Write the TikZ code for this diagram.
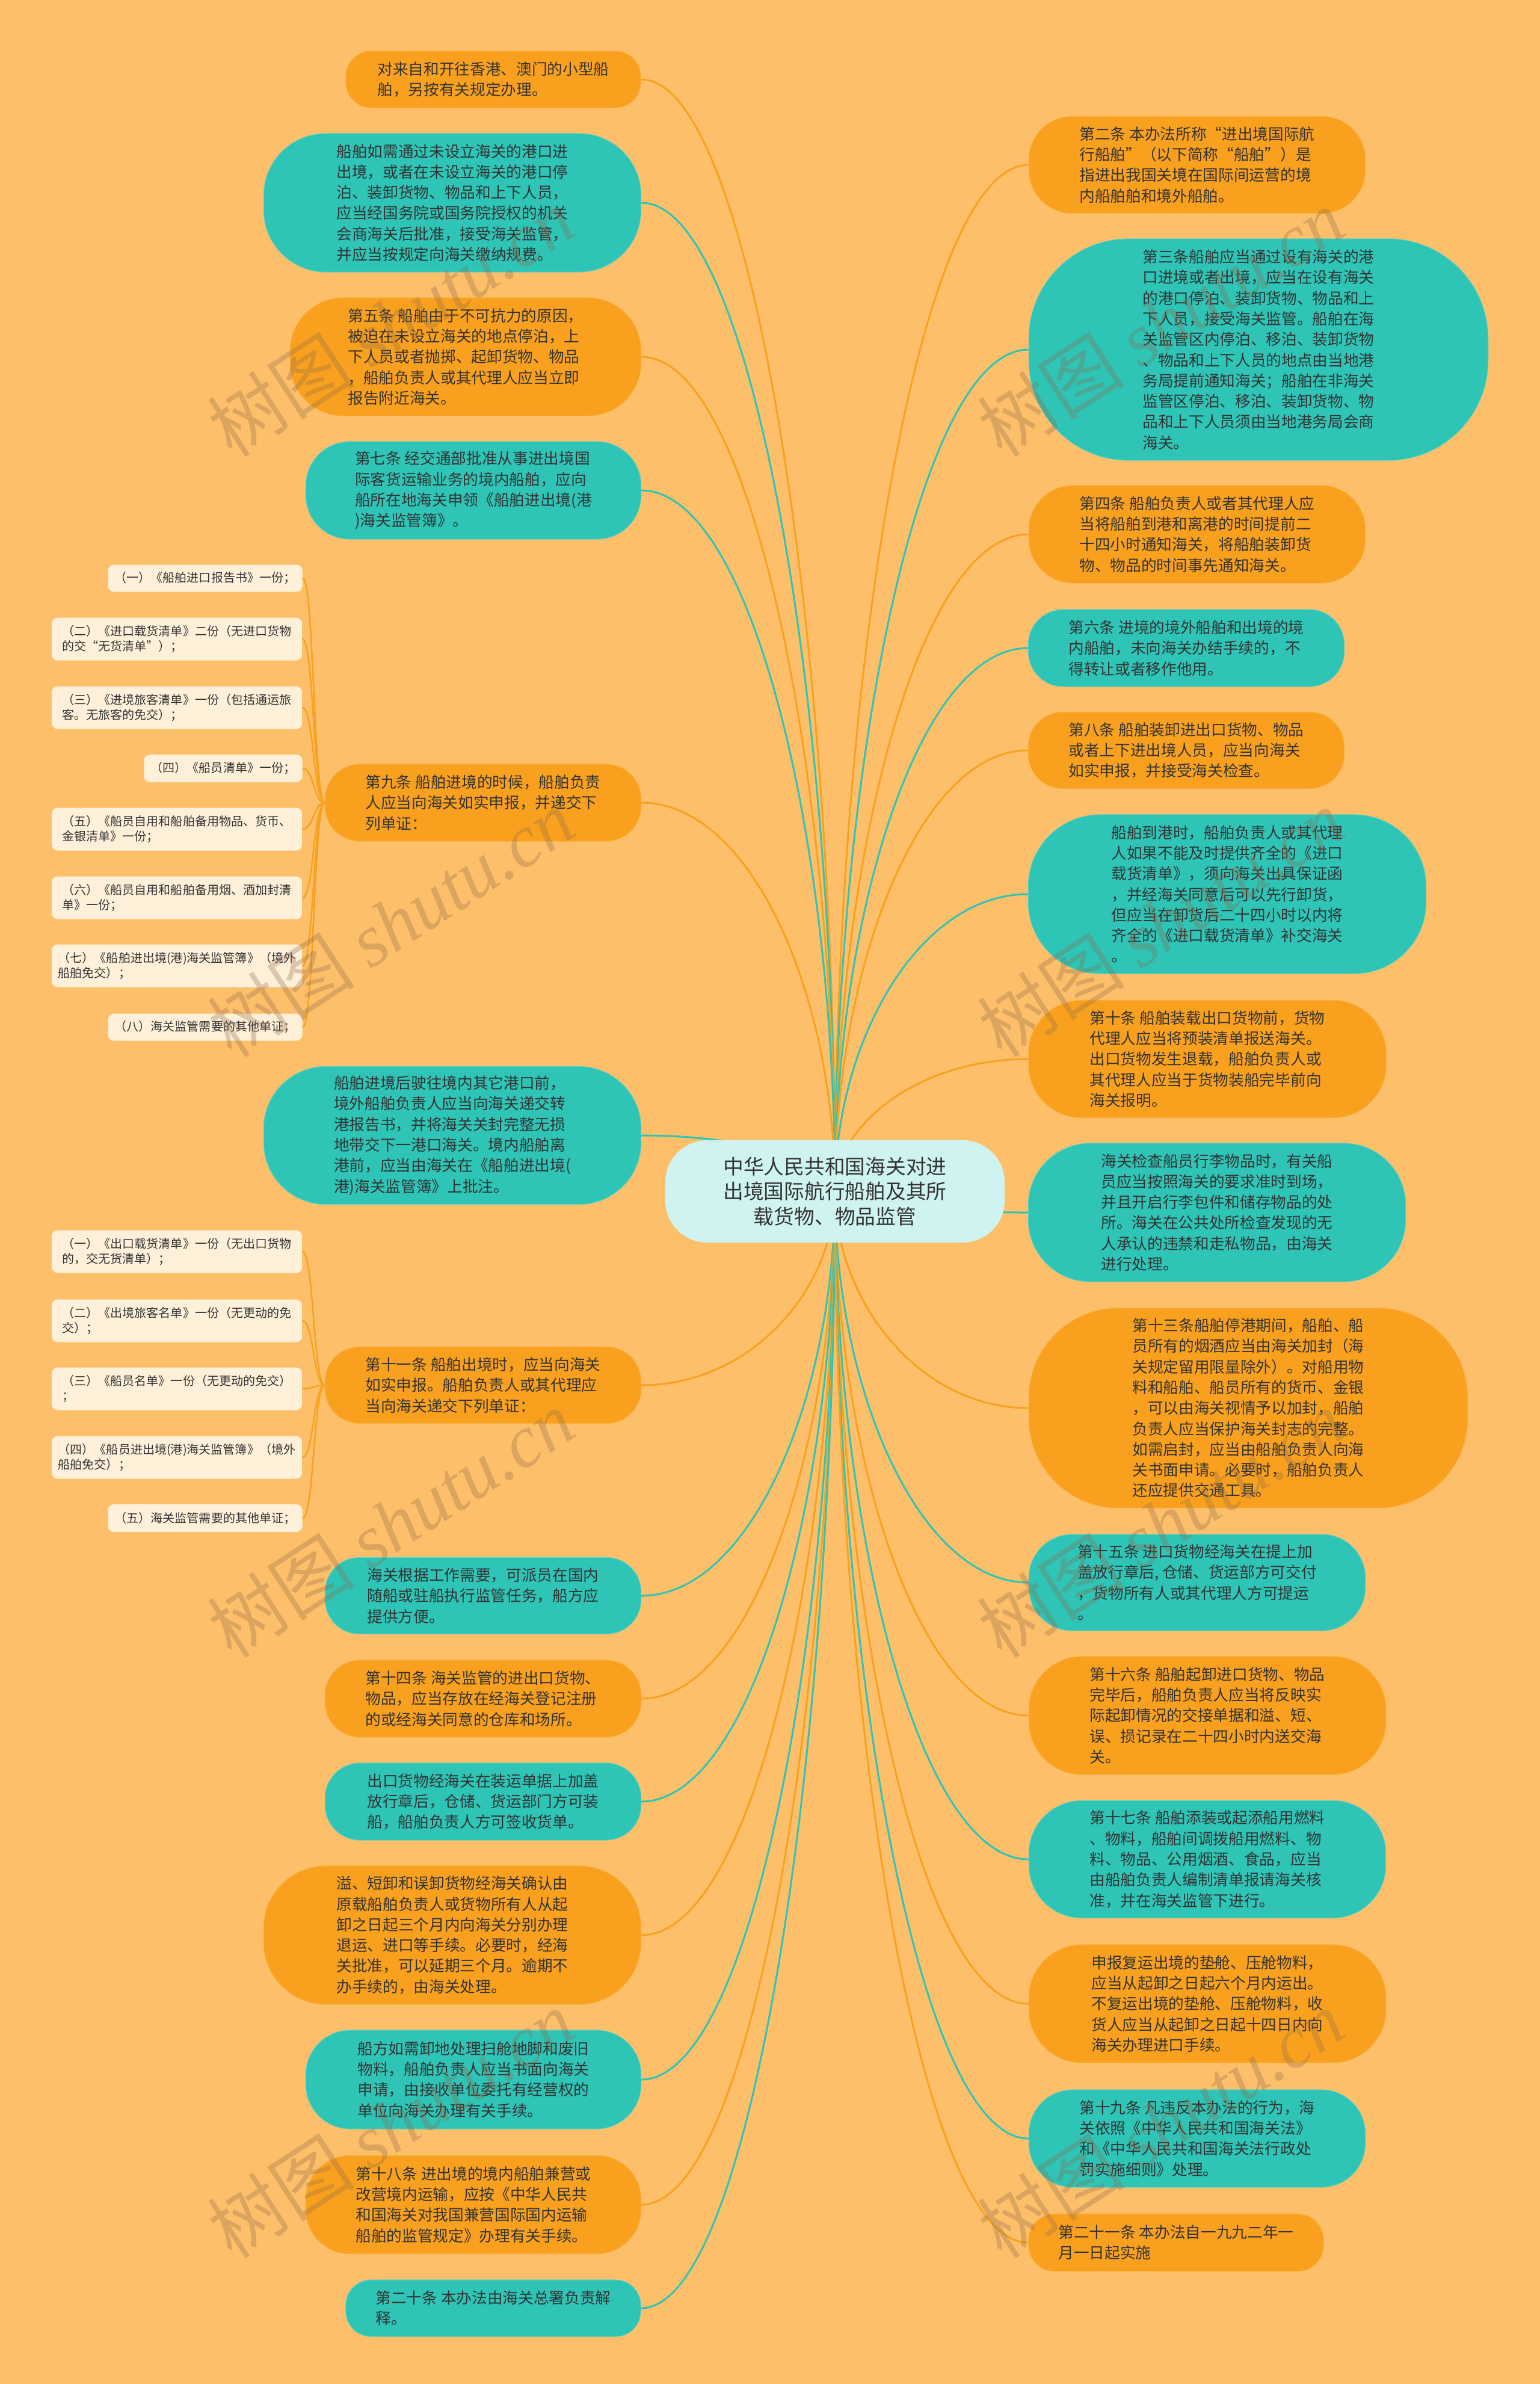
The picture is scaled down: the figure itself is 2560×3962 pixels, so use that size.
\documentclass[tikz,border=0pt]{standalone}
\usepackage{fontspec}
\setmainfont{Noto Sans CJK SC}
\newfontfamily\wmserif{Liberation Serif}
\usetikzlibrary{calc,backgrounds}

\definecolor{bgcol}{HTML}{FEBF6A}
\definecolor{orfill}{HTML}{F9A11E}
\definecolor{oredge}{HTML}{FBAE3C}
\definecolor{tlfill}{HTML}{2EC4B6}
\definecolor{tledge}{HTML}{5CD0C3}
\definecolor{rootfill}{HTML}{CFF3F0}
\definecolor{itemfill}{HTML}{FFF0D9}
\definecolor{txtcol}{HTML}{333333}
\definecolor{orline}{HTML}{F7A11E}
\definecolor{tlline}{HTML}{2EC4B6}
\definecolor{wmcol}{HTML}{8C6A46}

\tikzset{
  leaf/.style={align=left, inner sep=0pt, text=txtcol, font=\fontsize{7.3pt}{9.75pt}\selectfont},
  onode/.style={leaf, fill=orfill, draw=oredge, line width=0.3pt},
  tnode/.style={leaf, fill=tlfill, draw=tledge, line width=0.3pt},
  item/.style={align=left, inner sep=0pt, text=txtcol, fill=itemfill, rounded corners=0.1cm,
    font=\fontsize{5.7pt}{7.3pt}\selectfont},
  sz/.style n args={3}{minimum width=#1cm, minimum height=#2cm, rounded corners=#3cm},
  isz/.style n args={2}{minimum width=#1cm, minimum height=#2cm},
  link/.style={line width=0.85pt},
  twiglink/.style={line width=0.7pt, draw=orline},
  branch/.style={to path={let \p1=(\tikztostart), \p2=(\tikztotarget) in
      .. controls ({\x1+0.57*(\x2-\x1)},\y1) and (\x2,{\y1+0.5*(\y2-\y1)}) .. (\tikztotarget)}},
  twig/.style={to path={let \p1=(\tikztostart), \p2=(\tikztotarget) in
      .. controls ({0.5*(\x1+\x2)},\y1) and ({0.5*(\x1+\x2)},\y2) .. (\tikztotarget)}},
  wmark/.style={rotate=33, text=wmcol, opacity=0.3, font=\fontsize{35pt}{35pt}\selectfont}
}

\begin{document}
\begin{tikzpicture}[x=0.01cm, y=-0.01cm]
  \useasboundingbox (0,0) rectangle (2560,3962);

  % centre
  \node[leaf, align=center, fill=rootfill, font=\fontsize{9.6pt}{11.7pt}\selectfont,
    sz={5.64}{1.70}{0.70}] (root) at (1388,1980)
    {中华人民共和国海关对进\\出境国际航行船舶及其所\\载货物、物品监管};

  % left column
  \node[onode, sz={4.90}{0.94}{0.42}] (l1) at (820,132)
    {对来自和开往香港、澳门的小型船\\舶，另按有关规定办理。};
  \node[tnode, sz={6.27}{2.30}{1.03}] (l2) at (752,337)
    {船舶如需通过未设立海关的港口进\\出境，或者在未设立海关的港口停\\泊、装卸货物、物品和上下人员，\\应当经国务院或国务院授权的机关\\会商海关后批准，接受海关监管，\\并应当按规定向海关缴纳规费。};
  \node[onode, sz={5.83}{1.96}{0.88}] (l3) at (774,593)
    {第五条 船舶由于不可抗力的原因，\\被迫在未设立海关的地点停泊，上\\下人员或者抛掷、起卸货物、物品\\，船舶负责人或其代理人应当立即\\报告附近海关。};
  \node[tnode, sz={5.57}{1.62}{0.73}] (l4) at (787,815)
    {第七条 经交通部批准从事进出境国\\际客货运输业务的境内船舶，应向\\船所在地海关申领《船舶进出境(港\\)海关监管簿》。};
  \node[onode, sz={5.25}{1.28}{0.58}] (l5) at (803,1334)
    {第九条 船舶进境的时候，船舶负责\\人应当向海关如实申报，并递交下\\列单证：};
  \node[tnode, sz={6.27}{2.29}{1.03}] (l6) at (752,1887)
    {船舶进境后驶往境内其它港口前，\\境外船舶负责人应当向海关递交转\\港报告书，并将海关关封完整无损\\地带交下一港口海关。境内船舶离\\港前，应当由海关在《船舶进出境(\\港)海关监管簿》上批注。};
  \node[onode, sz={5.25}{1.27}{0.57}] (l7) at (803,2302)
    {第十一条 船舶出境时，应当向海关\\如实申报。船舶负责人或其代理应\\当向海关递交下列单证：};
  \node[tnode, sz={5.25}{1.27}{0.57}] (l8) at (803,2652)
    {海关根据工作需要，可派员在国内\\随船或驻船执行监管任务，船方应\\提供方便。};
  \node[onode, sz={5.25}{1.28}{0.58}] (l9) at (803,2823)
    {第十四条 海关监管的进出口货物、\\物品，应当存放在经海关登记注册\\的或经海关同意的仓库和场所。};
  \node[tnode, sz={5.25}{1.28}{0.58}] (l10) at (803,2994)
    {出口货物经海关在装运单据上加盖\\放行章后，仓储、货运部门方可装\\船，船舶负责人方可签收货单。};
  \node[onode, sz={6.27}{2.30}{1.03}] (l11) at (752,3216)
    {溢、短卸和误卸货物经海关确认由\\原载船舶负责人或货物所有人从起\\卸之日起三个月内向海关分别办理\\退运、进口等手续。必要时，经海\\关批准，可以延期三个月。逾期不\\办手续的，由海关处理。};
  \node[tnode, sz={5.57}{1.64}{0.74}] (l12) at (787,3456)
    {船方如需卸地处理扫舱地脚和废旧\\物料，船舶负责人应当书面向海关\\申请，由接收单位委托有经营权的\\单位向海关办理有关手续。};
  \node[onode, sz={5.57}{1.63}{0.73}] (l13) at (787,3664)
    {第十八条 进出境的境内船舶兼营或\\改营境内运输，应按《中华人民共\\和国海关对我国兼营国际国内运输\\船舶的监管规定》办理有关手续。};
  \node[tnode, sz={4.90}{0.94}{0.42}] (l14) at (820,3836)
    {第二十条 本办法由海关总署负责解\\释。};

  % right column
  \node[onode, sz={5.59}{1.61}{0.72}] (r1) at (1990,274)
    {第二条 本办法所称“进出境国际航\\行船舶”（以下简称“船舶”）是\\指进出我国关境在国际间运营的境\\内船舶舶和境外船舶。};
  \node[tnode, sz={7.63}{3.68}{1.66}] (r2) at (2092,581)
    {第三条船舶应当通过设有海关的港\\口进境或者出境，应当在设有海关\\的港口停泊、装卸货物、物品和上\\下人员，接受海关监管。船舶在海\\关监管区内停泊、移泊、装卸货物\\、物品和上下人员的地点由当地港\\务局提前通知海关；船舶在非海关\\监管区停泊、移泊、装卸货物、物\\品和上下人员须由当地港务局会商\\海关。};
  \node[onode, sz={5.59}{1.62}{0.73}] (r3) at (1990,888)
    {第四条 船舶负责人或者其代理人应\\当将船舶到港和离港的时间提前二\\十四小时通知海关，将船舶装卸货\\物、物品的时间事先通知海关。};
  \node[tnode, sz={5.25}{1.28}{0.58}] (r4) at (1972,1077)
    {第六条 进境的境外船舶和出境的境\\内船舶，未向海关办结手续的，不\\得转让或者移作他用。};
  \node[onode, sz={5.25}{1.27}{0.57}] (r5) at (1972,1247)
    {第八条 船舶装卸进出口货物、物品\\或者上下进出境人员，应当向海关\\如实申报，并接受海关检查。};
  \node[tnode, sz={6.61}{2.64}{1.19}] (r6) at (2040,1486)
    {船舶到港时，船舶负责人或其代理\\人如果不能及时提供齐全的《进口\\载货清单》，须向海关出具保证函\\，并经海关同意后可以先行卸货，\\但应当在卸货后二十四小时以内将\\齐全的《进口载货清单》补交海关\\。};
  \node[onode, sz={5.94}{1.95}{0.88}] (r7) at (2007,1760)
    {第十条 船舶装载出口货物前，货物\\代理人应当将预装清单报送海关。\\出口货物发生退载，船舶负责人或\\其代理人应当于货物装船完毕前向\\海关报明。};
  \node[tnode, sz={6.27}{2.30}{1.03}] (r8) at (2023,2015)
    {海关检查船员行李物品时，有关船\\员应当按照海关的要求准时到场，\\并且开启行李包件和储存物品的处\\所。海关在公共处所检查发现的无\\人承认的违禁和走私物品，由海关\\进行处理。};
  \node[onode, sz={7.29}{3.32}{1.49}] (r9) at (2075,2340)
    {第十三条船舶停港期间，船舶、船\\员所有的烟酒应当由海关加封（海\\关规定留用限量除外）。对船用物\\料和船舶、船员所有的货币、金银\\，可以由海关视情予以加封，船舶\\负责人应当保护海关封志的完整。\\如需启封，应当由船舶负责人向海\\关书面申请。必要时，船舶负责人\\还应提供交通工具。};
  \node[tnode, sz={5.59}{1.60}{0.72}] (r10) at (1990,2630)
    {第十五条 进口货物经海关在提上加\\盖放行章后, 仓储、货运部方可交付\\，货物所有人或其代理人方可提运\\。};
  \node[onode, sz={5.93}{1.96}{0.88}] (r11) at (2007,2851)
    {第十六条 船舶起卸进口货物、物品\\完毕后，船舶负责人应当将反映实\\际起卸情况的交接单据和溢、短、\\误、损记录在二十四小时内送交海\\关。};
  \node[tnode, sz={5.93}{1.95}{0.88}] (r12) at (2007,3090)
    {第十七条 船舶添装或起添船用燃料\\、物料，船舶间调拨船用燃料、物\\料、物品、公用烟酒、食品，应当\\由船舶负责人编制清单报请海关核\\准，并在海关监管下进行。};
  \node[onode, sz={5.93}{1.96}{0.88}] (r13) at (2007,3330)
    {申报复运出境的垫舱、压舱物料，\\应当从起卸之日起六个月内运出。\\不复运出境的垫舱、压舱物料，收\\货人应当从起卸之日起十四日内向\\海关办理进口手续。};
  \node[tnode, sz={5.59}{1.62}{0.73}] (r14) at (1990,3554)
    {第十九条 凡违反本办法的行为，海\\关依照《中华人民共和国海关法》\\和《中华人民共和国海关法行政处\\罚实施细则》处理。};
  \node[onode, sz={4.90}{0.95}{0.43}] (r15) at (1955,3727)
    {第二十一条 本办法自一九九二年一\\月一日起实施};

  % list under the ninth article
  \node[item, isz={3.23}{0.45}] (ia1) at (341,961) {（一）《船舶进口报告书》一份；};
  \node[item, isz={4.16}{0.71}] (ia2) at (294,1062) {（二）《进口载货清单》二份（无进口货物\\的交“无货清单”）；};
  \node[item, isz={4.16}{0.71}] (ia3) at (294,1176) {（三）《进境旅客清单》一份（包括通运旅\\客。无旅客的免交）；};
  \node[item, isz={2.63}{0.46}] (ia4) at (371,1277) {（四）《船员清单》一份；};
  \node[item, isz={4.16}{0.71}] (ia5) at (294,1378) {（五）《船员自用和船舶备用物品、货币、\\金银清单》一份；};
  \node[item, isz={4.16}{0.71}] (ia6) at (294,1492) {（六）《船员自用和船舶备用烟、酒加封清\\单》一份；};
  \node[item, isz={4.16}{0.71}] (ia7) at (294,1605) {（七）《船舶进出境(港)海关监管簿》（境外\\船舶免交）；};
  \node[item, isz={3.23}{0.45}] (ia8) at (341,1707) {（八）海关监管需要的其他单证；};

  % list under the eleventh article
  \node[item, isz={4.16}{0.71}] (ib1) at (294,2080) {（一）《出口载货清单》一份（无出口货物\\的，交无货清单）；};
  \node[item, isz={4.16}{0.71}] (ib2) at (294,2195) {（二）《出境旅客名单》一份（无更动的免\\交）；};
  \node[item, isz={4.16}{0.71}] (ib3) at (294,2308) {（三）《船员名单》一份（无更动的免交）\\；};
  \node[item, isz={4.16}{0.71}] (ib4) at (294,2422) {（四）《船员进出境(港)海关监管簿》（境外\\船舶免交）；};
  \node[item, isz={3.23}{0.46}] (ib5) at (341,2523) {（五）海关监管需要的其他单证；};

  \begin{scope}[on background layer]
    \fill[bgcol] (0,0) rectangle (2560,3962);
    \foreach \n/\c in {l1/orline, l2/tlline, l3/orline, l4/tlline, l5/orline, l6/tlline, l7/orline,
                       l8/tlline, l9/orline, l10/tlline, l11/orline, l12/tlline, l13/orline, l14/tlline}
      \draw[link, draw=\c] (\n.east) to[branch] (root.center);
    \foreach \n/\c in {r1/orline, r2/tlline, r3/orline, r4/tlline, r5/orline, r6/tlline, r7/orline, r8/tlline,
                       r9/orline, r10/tlline, r11/orline, r12/tlline, r13/orline, r14/tlline, r15/orline}
      \draw[link, draw=\c] (\n.west) to[branch] (root.center);
    \foreach \i in {1,...,8}
      \draw[twiglink] (ia\i.east) to[twig] (l5.west);
    \foreach \i in {1,...,5}
      \draw[twiglink] (ib\i.east) to[twig] (l7.west);
  \end{scope}

  % watermark
  \foreach \wx in {649,1929}{
    \foreach \wy in {536,1534,2532,3530}{
      \node[wmark] at (\wx,\wy) {树图 {\wmserif\itshape shutu.cn}};
    }
  }
\end{tikzpicture}
\end{document}
